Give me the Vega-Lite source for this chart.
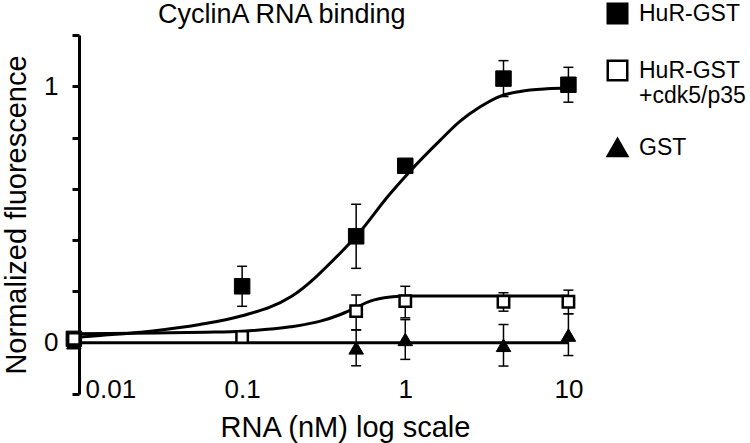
{
  "$schema": "https://vega.github.io/schema/vega-lite/v6.json",
  "width": 508,
  "height": 359,
  "autosize": "none",
  "padding": {"left": 79, "top": 35, "right": 163, "bottom": 49},
  "background": "white",
  "config": {
    "font": "Liberation Sans",
    "view": {"stroke": null},
    "axis": {"grid": false, "labelColor": "black", "titleColor": "black", "titleFontWeight": "normal", "domainColor": "black", "tickColor": "black"}
  },
  "title": {"text": "CyclinA RNA binding", "fontSize": 27, "fontWeight": "normal", "color": "black", "anchor": "start", "frame": "group", "dx": 79, "dy": 48, "baseline": "alphabetic", "offset": 0},
  "datasets": {
    "pts": [
      {"series": "GST", "x": 0.0093, "y": 0.0},
      {"series": "GST", "x": 0.5, "y": -0.02},
      {"series": "GST", "x": 1, "y": 0.013},
      {"series": "GST", "x": 4, "y": -0.01},
      {"series": "GST", "x": 10, "y": 0.03},
      {"series": "HuR-GST", "x": 0.0093, "y": 0.015},
      {"series": "HuR-GST", "x": 0.1, "y": 0.22},
      {"series": "HuR-GST", "x": 0.5, "y": 0.415},
      {"series": "HuR-GST", "x": 1, "y": 0.69},
      {"series": "HuR-GST", "x": 4, "y": 1.03},
      {"series": "HuR-GST", "x": 10, "y": 1.006},
      {"series": "HuR-GST +cdk5/p35", "x": 0.0093, "y": 0.015},
      {"series": "HuR-GST +cdk5/p35", "x": 0.1, "y": 0.022},
      {"series": "HuR-GST +cdk5/p35", "x": 0.5, "y": 0.123},
      {"series": "HuR-GST +cdk5/p35", "x": 1, "y": 0.162},
      {"series": "HuR-GST +cdk5/p35", "x": 4, "y": 0.16},
      {"series": "HuR-GST +cdk5/p35", "x": 10, "y": 0.16}
    ],
    "err": [
      {"series": "GST", "x": 0.5, "lo": -0.09, "hi": 0.05},
      {"series": "GST", "x": 1, "lo": -0.065, "hi": 0.09},
      {"series": "GST", "x": 4, "lo": -0.091, "hi": 0.071},
      {"series": "GST", "x": 10, "lo": -0.05, "hi": 0.113},
      {"series": "HuR-GST", "x": 0.1, "lo": 0.142, "hi": 0.298},
      {"series": "HuR-GST", "x": 0.5, "lo": 0.29, "hi": 0.54},
      {"series": "HuR-GST", "x": 4, "lo": 0.96, "hi": 1.1},
      {"series": "HuR-GST", "x": 10, "lo": 0.938, "hi": 1.074},
      {"series": "HuR-GST +cdk5/p35", "x": 0.5, "lo": 0.05, "hi": 0.186},
      {"series": "HuR-GST +cdk5/p35", "x": 1, "lo": 0.097, "hi": 0.22},
      {"series": "HuR-GST +cdk5/p35", "x": 4, "lo": 0.123, "hi": 0.195},
      {"series": "HuR-GST +cdk5/p35", "x": 10, "lo": 0.113, "hi": 0.205}
    ],
    "fit": [
      {"series": "GST", "x": 0.0093, "y": 0},
      {"series": "GST", "x": 10, "y": 0},
      {"series": "HuR-GST", "x": 0.0093, "y": 0.02},
      {"series": "HuR-GST", "x": 0.0135, "y": 0.028},
      {"series": "HuR-GST", "x": 0.0275, "y": 0.045},
      {"series": "HuR-GST", "x": 0.055, "y": 0.071},
      {"series": "HuR-GST", "x": 0.1, "y": 0.105},
      {"series": "HuR-GST", "x": 0.2, "y": 0.18},
      {"series": "HuR-GST", "x": 0.4, "y": 0.35},
      {"series": "HuR-GST", "x": 0.5, "y": 0.415},
      {"series": "HuR-GST", "x": 0.8, "y": 0.578},
      {"series": "HuR-GST", "x": 1.07, "y": 0.669},
      {"series": "HuR-GST", "x": 1.64, "y": 0.79},
      {"series": "HuR-GST", "x": 2.17, "y": 0.864},
      {"series": "HuR-GST", "x": 2.88, "y": 0.92},
      {"series": "HuR-GST", "x": 3.8, "y": 0.961},
      {"series": "HuR-GST", "x": 5.06, "y": 0.98},
      {"series": "HuR-GST", "x": 7.4, "y": 0.99},
      {"series": "HuR-GST", "x": 10, "y": 0.993},
      {"series": "HuR-GST +cdk5/p35", "x": 0.0093, "y": 0.035},
      {"series": "HuR-GST +cdk5/p35", "x": 0.03, "y": 0.038},
      {"series": "HuR-GST +cdk5/p35", "x": 0.06, "y": 0.041},
      {"series": "HuR-GST +cdk5/p35", "x": 0.1, "y": 0.045},
      {"series": "HuR-GST +cdk5/p35", "x": 0.198, "y": 0.062},
      {"series": "HuR-GST +cdk5/p35", "x": 0.302, "y": 0.084},
      {"series": "HuR-GST +cdk5/p35", "x": 0.4, "y": 0.11},
      {"series": "HuR-GST +cdk5/p35", "x": 0.494, "y": 0.136},
      {"series": "HuR-GST +cdk5/p35", "x": 0.61, "y": 0.162},
      {"series": "HuR-GST +cdk5/p35", "x": 0.81, "y": 0.178},
      {"series": "HuR-GST +cdk5/p35", "x": 1.03, "y": 0.182},
      {"series": "HuR-GST +cdk5/p35", "x": 2, "y": 0.182},
      {"series": "HuR-GST +cdk5/p35", "x": 10, "y": 0.182}
    ]
  },
  "layer": [
    {
      "mark": {"type": "rule", "strokeWidth": 3, "strokeDash": [38, 34], "color": "black"},
      "encoding": {
        "x": {"datum": 0.01, "type": "quantitative", "scale": {"type": "log", "domain": [0.01, 13], "nice": false},
          "axis": {"values": [0.01, 0.1, 1, 10], "format": "~g", "labelFontSize": 26, "labelPadding": 0, "ticks": false, "tickSize": 0, "domain": false, "offset": -18,
            "labelAlign": {"condition": {"test": "datum.value < 0.05", "value": "left"}, "value": "center"},
            "labelOffset": {"condition": {"test": "datum.value < 0.05", "value": 6}, "value": 0},
            "titleFontSize": 29, "titlePadding": 11, "titleX": 266},
          "title": "RNA (nM) log scale"},
        "x2": {"datum": 7.62},
        "y": {"datum": 1, "type": "quantitative", "scale": {"domain": [-0.2, 1.2], "nice": false, "zero": false},
          "axis": {"values": [-0.2, 0, 0.2, 0.4, 0.6, 0.8, 1, 1.2], "labelExpr": "datum.value == 0 ? '0' : datum.value == 1 ? '1' : ''", "labelFontSize": 26, "labelPadding": 14, "tickSize": 7, "tickWidth": 3, "domainWidth": 3, "titleFontSize": 29, "titlePadding": 12},
          "title": "Normalized fluorescence"}
      }
    },
    {
      "data": {"name": "err"},
      "mark": {"type": "rule", "strokeWidth": 1.5, "color": "black"},
      "encoding": {
        "x": {"field": "x", "type": "quantitative", "title": "RNA (nM) log scale"},
        "y": {"field": "lo", "type": "quantitative", "title": "Normalized fluorescence"},
        "y2": {"field": "hi"}
      }
    },
    {
      "data": {"name": "err"},
      "mark": {"type": "tick", "orient": "horizontal", "size": 10, "thickness": 1.5, "color": "black", "opacity": 1},
      "encoding": {
        "x": {"field": "x", "type": "quantitative", "title": "RNA (nM) log scale"},
        "y": {"field": "lo", "type": "quantitative", "title": "Normalized fluorescence"}
      }
    },
    {
      "data": {"name": "err"},
      "mark": {"type": "tick", "orient": "horizontal", "size": 10, "thickness": 1.5, "color": "black", "opacity": 1},
      "encoding": {
        "x": {"field": "x", "type": "quantitative", "title": "RNA (nM) log scale"},
        "y": {"field": "hi", "type": "quantitative", "title": "Normalized fluorescence"}
      }
    },
    {
      "data": {"name": "fit"},
      "mark": {"type": "line", "strokeWidth": 3, "color": "black", "interpolate": "monotone"},
      "encoding": {
        "x": {"field": "x", "type": "quantitative", "title": "RNA (nM) log scale"},
        "y": {"field": "y", "type": "quantitative", "title": "Normalized fluorescence"},
        "detail": {"field": "series", "type": "nominal"}
      }
    },
    {
      "data": {"name": "pts"},
      "transform": [{"filter": "datum.series == 'GST'"}],
      "mark": {"type": "point", "filled": true, "stroke": "black", "strokeWidth": 1, "size": 210, "opacity": 1},
      "encoding": {
        "x": {"field": "x", "type": "quantitative", "title": "RNA (nM) log scale"},
        "y": {"field": "y", "type": "quantitative", "title": "Normalized fluorescence"},
        "shape": {"field": "series", "type": "nominal", "scale": {"domain": ["HuR-GST", "HuR-GST +cdk5/p35", "GST"], "range": ["square", "square", "triangle-up"]},
          "legend": {"orient": "none", "legendX": 527, "legendY": -33, "title": null, "padding": 0, "labelFontSize": 23, "labelColor": "black", "labelLimit": 300, "symbolSize": 380, "symbolStrokeWidth": 2.5, "symbolStrokeColor": "black", "labelOffset": 10, "rowPadding": 26,
            "labelExpr": "datum.label == 'HuR-GST +cdk5/p35' ? ['HuR-GST', '+cdk5/p35'] : datum.label",
            "encoding": {"symbols": {"stroke": {"value": "black"}, "strokeWidth": {"value": 2.5}}}}},
        "fill": {"field": "series", "type": "nominal", "scale": {"domain": ["HuR-GST", "HuR-GST +cdk5/p35", "GST"], "range": ["black", "white", "black"]}}
      }
    },
    {
      "data": {"name": "pts"},
      "transform": [{"filter": "datum.series == 'HuR-GST'"}],
      "mark": {"type": "point", "filled": true, "stroke": "black", "strokeWidth": 1, "size": 240, "opacity": 1},
      "encoding": {
        "x": {"field": "x", "type": "quantitative", "title": "RNA (nM) log scale"},
        "y": {"field": "y", "type": "quantitative", "title": "Normalized fluorescence"},
        "shape": {"field": "series", "type": "nominal"},
        "fill": {"field": "series", "type": "nominal"}
      }
    },
    {
      "data": {"name": "pts"},
      "transform": [{"filter": "datum.series == 'HuR-GST +cdk5/p35'"}],
      "mark": {"type": "point", "filled": true, "stroke": "black", "strokeWidth": 2.5, "size": 130, "opacity": 1},
      "encoding": {
        "x": {"field": "x", "type": "quantitative", "title": "RNA (nM) log scale"},
        "y": {"field": "y", "type": "quantitative", "title": "Normalized fluorescence"},
        "shape": {"field": "series", "type": "nominal"},
        "fill": {"field": "series", "type": "nominal"}
      }
    }
  ]
}
